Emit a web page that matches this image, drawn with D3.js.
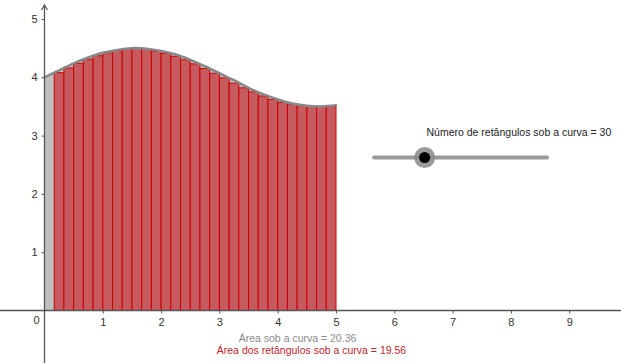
<!DOCTYPE html>
<html>
<head>
<meta charset="utf-8">
<script src="https://cdn.jsdelivr.net/npm/d3@7"></script>
<style>
  body { margin: 0; background: #fff; }
  svg { display: block; font-family: "Liberation Sans", Arial, sans-serif; }
</style>
</head>
<body>
<div id="chart-area"></div>
<script>
// curve (x in units, y in units)
let curveX = [0, 0.25, 0.5, 0.75, 1, 1.25, 1.5, 1.75, 2, 2.25, 2.5, 2.75, 3, 3.25, 3.5, 3.75, 4, 4.25, 4.5, 4.75, 5];
let curveY = [4.00, 4.12, 4.24, 4.34, 4.42, 4.47, 4.50, 4.49, 4.45, 4.39, 4.30, 4.19, 4.07, 3.95, 3.82, 3.71, 3.62, 3.55, 3.51, 3.50, 3.52];

// red rectangles, width 1/6, starting at x = 1/6
let rectStep = 1 / 6;
let rectHeights = [4.08, 4.16, 4.24, 4.31, 4.37, 4.42, 4.46, 4.49, 4.50, 4.48, 4.45, 4.41, 4.36, 4.30,
  4.23, 4.15, 4.07, 3.99, 3.90, 3.82, 3.75, 3.68, 3.62, 3.57, 3.54, 3.51, 3.50, 3.50, 3.50];

let xTicks = [1, 2, 3, 4, 5, 6, 7, 8, 9];
let yTicks = [1, 2, 3, 4, 5];

let sliderLabel = "Número de retângulos sob a curva = 30";
let sliderRange = [1, 100];
let sliderValue = 30;
let areaLabel = "Área sob a curva = 20.36";
let rectAreaLabel = "Área dos retângulos sob a curva = 19.56";

let width = 621, height = 363;

let svg = d3.select("#chart-area").append("svg")
  .attr("width", width)
  .attr("height", height);

// 1 unit = 58.3 px, origin at (44.5, 310.5)
let xScale = d3.scaleLinear().domain([0, 1]).range([44.5, 102.8]);
let yScale = d3.scaleLinear().domain([0, 1]).range([310.5, 252.2]);

let pts = curveX.map((x, i) => [x, curveY[i]]);

// gray area under the curve
let area = d3.area()
  .x(d => xScale(d[0]))
  .y0(yScale(0))
  .y1(d => yScale(d[1]))
  .curve(d3.curveCatmullRom);

svg.append("path")
  .attr("d", area(pts))
  .attr("fill", "#c0c0c0");

// rectangles
svg.selectAll(".rect")
  .data(rectHeights)
  .enter()
  .append("rect")
  .attr("class", "rect")
  .attr("x", (d, i) => xScale((i + 1) * rectStep))
  .attr("y", d => yScale(d))
  .attr("width", xScale(rectStep) - xScale(0))
  .attr("height", d => yScale(0) - yScale(d))
  .attr("fill", "#c65a5f")
  .attr("stroke", "#cc0000")
  .attr("stroke-width", 1);

// curve
let line = d3.line()
  .x(d => xScale(d[0]))
  .y(d => yScale(d[1]))
  .curve(d3.curveCatmullRom);

svg.append("path")
  .attr("d", line(pts))
  .attr("fill", "none")
  .attr("stroke", "#888")
  .attr("stroke-width", 2.5)
  .attr("stroke-linecap", "round");

// axes
let axisColor = "#555";
svg.append("line")
  .attr("x1", 0).attr("x2", width)
  .attr("y1", yScale(0)).attr("y2", yScale(0))
  .attr("stroke", axisColor).attr("stroke-width", 1.3);

svg.append("line")
  .attr("x1", xScale(0)).attr("x2", xScale(0))
  .attr("y1", 6).attr("y2", height)
  .attr("stroke", axisColor).attr("stroke-width", 1.3);

// arrow at top of y axis
svg.append("path")
  .attr("d", `M${xScale(0) - 3},${10} L${xScale(0)},${5} L${xScale(0) + 3},${10}`)
  .attr("fill", "none")
  .attr("stroke", axisColor)
  .attr("stroke-width", 1.2);

let xAxis = d3.axisBottom(xScale)
  .tickValues(xTicks)
  .tickSize(3)
  .tickPadding(5)
  .tickFormat(d3.format("d"));

let xGroup = svg.append("g")
  .attr("transform", `translate(0,${yScale(0)})`)
  .call(xAxis);
xGroup.select(".domain").remove();

let yAxis = d3.axisLeft(yScale)
  .tickValues(yTicks)
  .tickSize(3)
  .tickPadding(4)
  .tickFormat(d3.format("d"));

let yGroup = svg.append("g")
  .attr("transform", `translate(${xScale(0)},0)`)
  .call(yAxis);
yGroup.select(".domain").remove();

svg.selectAll(".tick line").attr("stroke", axisColor);
svg.selectAll(".tick text")
  .attr("fill", "#333")
  .style("font-size", "11px")
  .style("font-family", "Liberation Sans, Arial, sans-serif");

svg.append("text")
  .attr("x", xScale(0) - 5)
  .attr("y", yScale(0) + 13)
  .attr("text-anchor", "end")
  .attr("fill", "#333")
  .style("font-size", "11px")
  .text("0");

// slider
let sliderScale = d3.scaleLinear().domain(sliderRange).range([374, 547]);
let sliderY = 157.5;

svg.append("text")
  .attr("x", 426.5)
  .attr("y", 135.5)
  .attr("fill", "#222")
  .style("font-size", "10.5px")
  .text(sliderLabel);

svg.append("line")
  .attr("x1", sliderScale.range()[0]).attr("x2", sliderScale.range()[1])
  .attr("y1", sliderY).attr("y2", sliderY)
  .attr("stroke", "#999")
  .attr("stroke-width", 4)
  .attr("stroke-linecap", "round");

svg.append("circle")
  .attr("cx", sliderScale(sliderValue)).attr("cy", sliderY)
  .attr("r", 10.5)
  .attr("fill", "#888")
  .attr("fill-opacity", 0.85);

svg.append("circle")
  .attr("cx", sliderScale(sliderValue)).attr("cy", sliderY)
  .attr("r", 5.5)
  .attr("fill", "#000");

// area texts
svg.append("text")
  .attr("x", 297.5)
  .attr("y", 341.5)
  .attr("text-anchor", "middle")
  .attr("fill", "#8a8a8a")
  .style("font-size", "10.5px")
  .text(areaLabel);

svg.append("text")
  .attr("x", 311.5)
  .attr("y", 354)
  .attr("text-anchor", "middle")
  .attr("fill", "#c0262b")
  .style("font-size", "10.5px")
  .text(rectAreaLabel);
</script>
</body>
</html>
